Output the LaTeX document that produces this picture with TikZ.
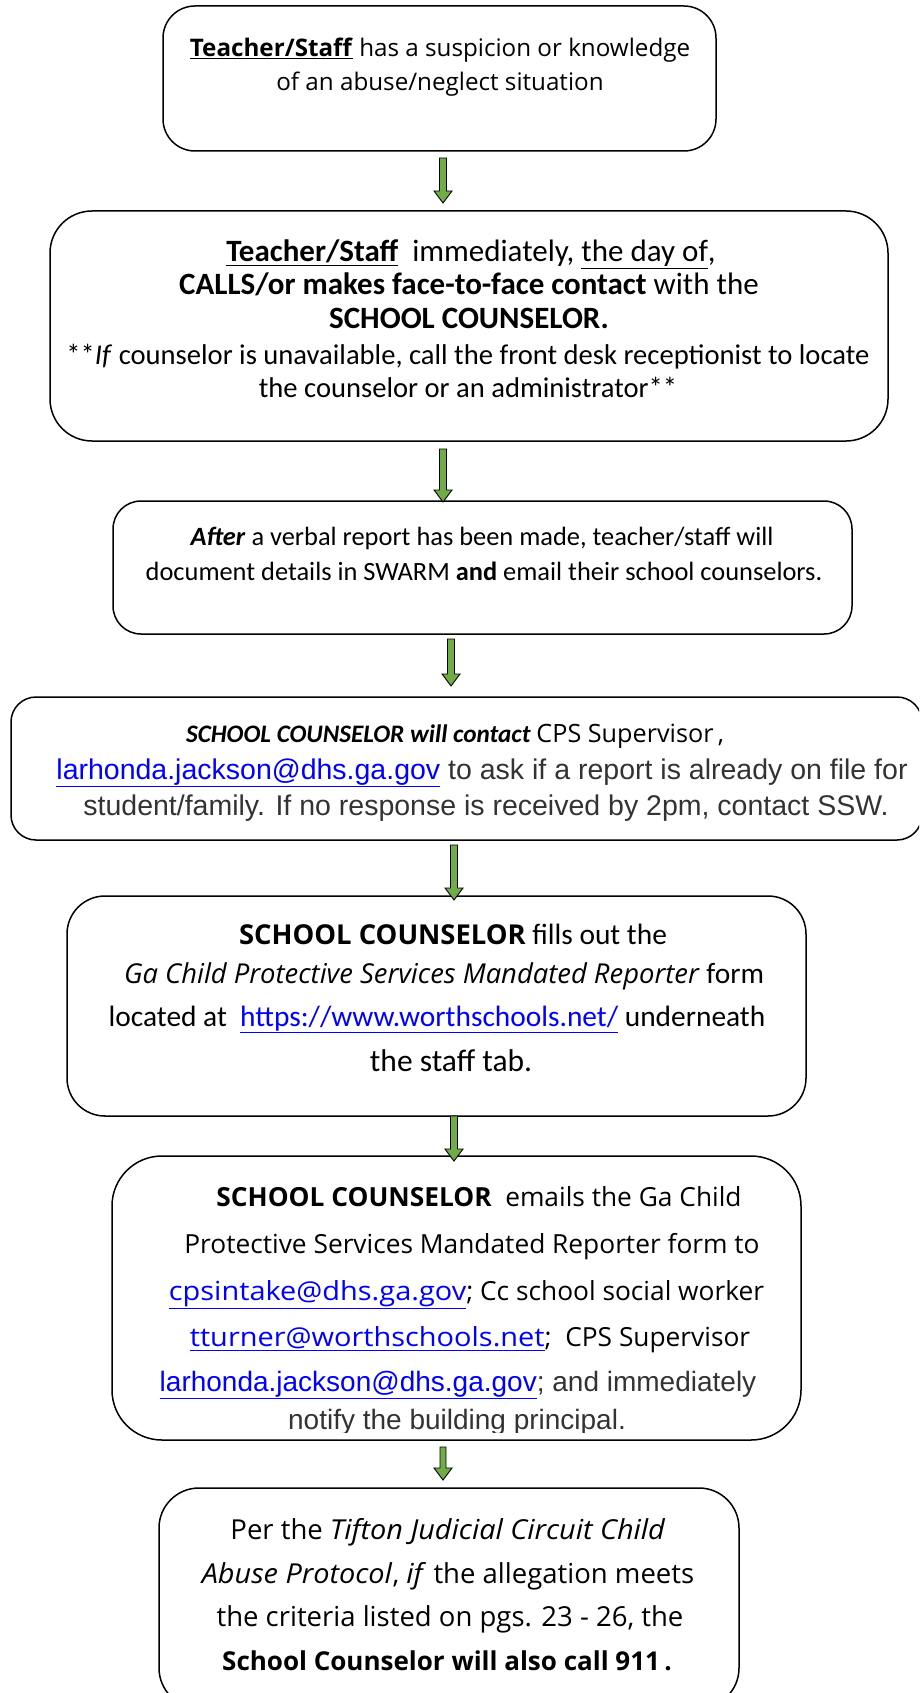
\documentclass[tikz,border=0pt]{standalone}
\usepackage{fontspec}
\setmainfont{Open Sans}
\newfontfamily\comic{Open Sans}
\newfontfamily\calib{Carlito}
\newfontfamily\arial{Liberation Sans}
\usetikzlibrary{calc}
\definecolor{agreen}{HTML}{70AD47}
\definecolor{linkblue}{HTML}{0000FF}
\definecolor{agray}{HTML}{333333}
\newcommand\lnk[1]{\textcolor{linkblue}{\underline{#1}}}
\newcommand\wlnk[1]{\scalebox{1.1}[1]{\lnk{#1}}}
\newcommand\wit[1]{\scalebox{1.05}[1]{\textit{#1}}}
\newcommand\fs[2]{\fontsize{#1}{#2}\selectfont}
\newcommand\fatarrow[3][3.5]{%
  \draw[fat] ($(#2)+(-#1,0)$) -- ($(#3)+(-#1,-12)$) -- ($(#3)+(-9,-12)$) -- (#3)
    -- ($(#3)+(9,-12)$) -- ($(#3)+(#1,-12)$) -- ($(#2)+(#1,0)$) -- cycle;}
\tikzset{
  box/.style={draw=black, line width=1.5pt, fill=white},
  ln/.style={inner sep=0pt, anchor=base},
  fat/.style={draw=black, line width=0.9pt, fill=agreen, line join=miter},
}
\begin{document}
\begin{tikzpicture}[x=1pt,y=-1pt]
\useasboundingbox (0,0) rectangle (919,1693);
\clip (0,0) rectangle (919,1693);
% boxes
\node[box, rounded corners=32, minimum width=553, minimum height=145] (b1) at (439.5,78.5) {};
\node[box, rounded corners=42, minimum width=838, minimum height=230] (b2) at (469,326) {};
\node[box, rounded corners=28, minimum width=739, minimum height=133] (b3) at (482.5,567.5) {};
\node[box, rounded corners=25, minimum width=911, minimum height=143] (b4) at (466.5,768.5) {};
\node[box, rounded corners=38, minimum width=739, minimum height=220] (b5) at (436.5,1006) {};
\node[box, rounded corners=50, minimum width=689, minimum height=284] (b6) at (456.5,1298) {};
\node[box, rounded corners=40, minimum width=580, minimum height=220] (b7) at (449,1598) {};
% arrows
\coordinate (a1s) at (443,158);  \coordinate (a1e) at (443,203);
\coordinate (a2s) at (443,449);  \coordinate (a2e) at (443,502);
\coordinate (a3s) at (451,639);  \coordinate (a3e) at (451,686);
\coordinate (a4s) at (454,845);  \coordinate (a4e) at (454,900);
\coordinate (a5s) at (454,1116); \coordinate (a5e) at (454,1161);
\coordinate (a6s) at (443,1447); \coordinate (a6e) at (443,1480);
\fatarrow{a1s}{a1e}
\fatarrow{a2s}{a2e}
\fatarrow{a3s}{a3e}
\fatarrow{a4s}{a4e}
\fatarrow{a5s}{a5e}
\fatarrow[3]{a6s}{a6e}
% box 1
\node[ln, font=\comic\fs{24.2}{28}] (t1a) at (440,57) {\underline{\textbf{Teacher/Staff}} has a suspicion or knowledge};
\node[ln, font=\comic\fs{24.2}{28}] (t1b) at (440,91) {of an abuse/neglect situation};
% box 2
\node[ln, font=\calib\fs{31}{34}] (t2a) at (471,262) {\underline{\textbf{Teacher/Staff}}\ \ immediately, \underline{the day of},};
\node[ln, font=\calib\fs{31}{34}] (t2b) at (469,295) {\textbf{CALLS/or makes face-to-face contact} with the};
\node[ln, font=\calib\fs{31}{34}] (t2c) at (469,328) {\textbf{SCHOOL COUNSELOR.}};
\node[ln, font=\calib\fs{28.6}{32}] (t2d) at (468,364) {**\textit{If} counselor is unavailable, call the front desk receptionist to locate};
\node[ln, font=\calib\fs{28.6}{32}] (t2e) at (468,397) {the counselor or an administrator**};
% box 3
\node[ln, font=\calib\fs{26.4}{30}] (t3a) at (482,545) {\textbf{\textit{After}} a verbal report has been made, teacher/staff will};
\node[ln, font=\calib\fs{26.4}{30}] (t3b) at (484,580) {document details in SWARM \textbf{and} email their school counselors.};
% box 4
\node[ln, font=\calib\fs{25.2}{29}] (t4a) at (455,742) {\textbf{\textit{SCHOOL COUNSELOR will contact}} {\comic CPS Supervisor\,,}};
\node[ln, font=\arial\fs{28.5}{33}, text=agray] (t4b) at (482,779) {\lnk{larhonda.jackson@dhs.ga.gov} to ask if a report is already on file for};
\node[ln, font=\arial\fs{28.5}{33}, text=agray] (t4c) at (486,815) {student/family. If no response is received by 2pm, contact SSW.};
% box 5
\node[ln, font=\calib\fs{29.4}{33}] (t5a) at (453,944) {{\comic\fs{27.4}{31}\textbf{SCHOOL COUNSELOR}} fills out the};
\node[ln, font=\calib\fs{29.4}{33}] (t5b) at (444,983) {{\comic\fs{27.4}{31}\textit{Ga Child Protective Services Mandated Reporter}} form};
\node[ln, font=\calib\fs{29.4}{33}] (t5c) at (437,1026) {located at\ \ \lnk{https://www.worthschools.net/} underneath};
\node[ln, font=\calib\fs{31.5}{35}] (t5d) at (451,1071) {the staff tab.};
% box 6
\node[ln, font=\comic\fs{26.3}{30}] (t6a) at (479,1206) {\textbf{SCHOOL COUNSELOR}\ \ emails the Ga Child};
\node[ln, font=\comic\fs{26.3}{30}] (t6b) at (472,1253) {Protective Services Mandated Reporter form to};
\node[ln, font=\comic\fs{26.3}{30}] (t6c) at (466.5,1300) {\wlnk{cpsintake@dhs.ga.gov}; Cc school social worker};
\node[ln, font=\comic\fs{26.3}{30}] (t6d) at (470,1346) {\wlnk{tturner@worthschools.net};\ \ CPS Supervisor};
\node[ln, font=\arial\fs{28}{32}, text=agray] (t6e) at (458,1391) {\lnk{larhonda.jackson@dhs.ga.gov}; and immediately};
\begin{scope}
\clip (120,1395) rectangle (800,1432);
\node[ln, font=\arial\fs{28}{32}, text=agray] (t6f) at (457,1429) {notify the building principal.};
\end{scope}
% box 7
\node[ln, font=\comic\fs{27.5}{31}] (t7a) at (448,1539) {Per the \wit{Tifton Judicial Circuit Child}};
\node[ln, font=\comic\fs{27.5}{31}] (t7b) at (448,1583) {\wit{Abuse Protocol}, \wit{if} the allegation meets};
\node[ln, font=\comic\fs{27.5}{31}] (t7c) at (450,1626) {the criteria listed on pgs. 23 - 26, the};
\node[ln, font=\comic\fs{26}{30}] (t7d) at (447,1670) {\textbf{School Counselor will also call 911\,.}};
\end{tikzpicture}
\end{document}
